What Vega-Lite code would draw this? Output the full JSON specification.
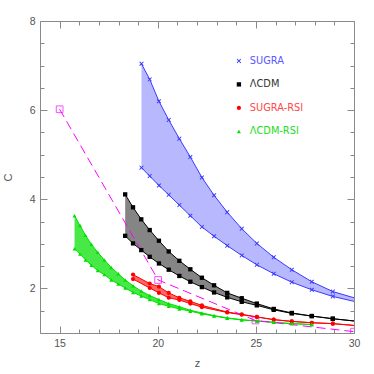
{
  "$schema": "https://vega.github.io/schema/vega-lite/v6.json",
  "width": 314,
  "height": 312,
  "autosize": {"type": "none"},
  "padding": {"left": 40, "top": 21, "right": 20, "bottom": 41},
  "background": "white",
  "config": {
    "view": {"stroke": "#8a8a8a", "strokeWidth": 1},
    "font": "Liberation Sans",
    "axis": {
      "domain": false,
      "grid": false,
      "tickColor": "#8a8a8a",
      "labelColor": "#555555",
      "titleColor": "#555555",
      "labelFontSize": 10.5,
      "titleFontSize": 11,
      "titleFontWeight": "normal",
      "labelFlush": false,
      "labelOverlap": false
    }
  },
  "datasets": {
    "curves": [
      {"series": "SUGRA", "z": 19.17, "hi": 7.04, "lo": 4.71},
      {"series": "SUGRA", "z": 19.59, "hi": 6.69, "lo": 4.52},
      {"series": "SUGRA", "z": 20.06, "hi": 6.20, "lo": 4.31},
      {"series": "SUGRA", "z": 20.56, "hi": 5.78, "lo": 4.10},
      {"series": "SUGRA", "z": 21.10, "hi": 5.36, "lo": 3.87},
      {"series": "SUGRA", "z": 21.66, "hi": 4.95, "lo": 3.63},
      {"series": "SUGRA", "z": 22.25, "hi": 4.49, "lo": 3.38},
      {"series": "SUGRA", "z": 22.87, "hi": 4.09, "lo": 3.17},
      {"series": "SUGRA", "z": 23.54, "hi": 3.71, "lo": 2.96},
      {"series": "SUGRA", "z": 24.28, "hi": 3.34, "lo": 2.74},
      {"series": "SUGRA", "z": 25.05, "hi": 3.01, "lo": 2.53},
      {"series": "SUGRA", "z": 25.91, "hi": 2.70, "lo": 2.33},
      {"series": "SUGRA", "z": 26.83, "hi": 2.42, "lo": 2.14},
      {"series": "SUGRA", "z": 27.85, "hi": 2.15, "lo": 1.97},
      {"series": "SUGRA", "z": 28.92, "hi": 1.93, "lo": 1.82},
      {"series": "SUGRA", "z": 30.0, "hi": 1.79, "lo": 1.71},
      {"series": "ΛCDM", "z": 18.34, "hi": 4.11, "lo": 3.18},
      {"series": "ΛCDM", "z": 18.74, "hi": 3.82, "lo": 3.01},
      {"series": "ΛCDM", "z": 19.16, "hi": 3.55, "lo": 2.86},
      {"series": "ΛCDM", "z": 19.59, "hi": 3.31, "lo": 2.71},
      {"series": "ΛCDM", "z": 20.06, "hi": 3.07, "lo": 2.56},
      {"series": "ΛCDM", "z": 20.56, "hi": 2.83, "lo": 2.42},
      {"series": "ΛCDM", "z": 21.10, "hi": 2.62, "lo": 2.28},
      {"series": "ΛCDM", "z": 21.66, "hi": 2.43, "lo": 2.15},
      {"series": "ΛCDM", "z": 22.25, "hi": 2.24, "lo": 2.03},
      {"series": "ΛCDM", "z": 22.87, "hi": 2.07, "lo": 1.91},
      {"series": "ΛCDM", "z": 23.54, "hi": 1.90, "lo": 1.80},
      {"series": "ΛCDM", "z": 24.28, "hi": 1.78, "lo": 1.70},
      {"series": "ΛCDM", "z": 25.05, "hi": 1.66, "lo": 1.62},
      {"series": "ΛCDM", "z": 25.91, "hi": 1.54, "lo": 1.52},
      {"series": "ΛCDM", "z": 26.83, "hi": 1.45, "lo": 1.44},
      {"series": "ΛCDM", "z": 27.85, "hi": 1.38, "lo": 1.38},
      {"series": "ΛCDM", "z": 28.92, "hi": 1.32, "lo": 1.32},
      {"series": "ΛCDM", "z": 30.0, "hi": 1.27, "lo": 1.27},
      {"series": "SUGRA-RSI", "z": 18.74, "hi": 2.31, "lo": 2.21},
      {"series": "SUGRA-RSI", "z": 19.59, "hi": 2.11, "lo": 2.01},
      {"series": "SUGRA-RSI", "z": 20.06, "hi": 2.04, "lo": 1.90},
      {"series": "SUGRA-RSI", "z": 20.56, "hi": 1.90, "lo": 1.79},
      {"series": "SUGRA-RSI", "z": 21.10, "hi": 1.79, "lo": 1.74},
      {"series": "SUGRA-RSI", "z": 21.66, "hi": 1.71, "lo": 1.66},
      {"series": "SUGRA-RSI", "z": 22.25, "hi": 1.62, "lo": 1.58},
      {"series": "SUGRA-RSI", "z": 23.54, "hi": 1.47, "lo": 1.46},
      {"series": "SUGRA-RSI", "z": 24.28, "hi": 1.42, "lo": 1.41},
      {"series": "SUGRA-RSI", "z": 25.05, "hi": 1.36, "lo": 1.36},
      {"series": "SUGRA-RSI", "z": 25.91, "hi": 1.30, "lo": 1.30},
      {"series": "SUGRA-RSI", "z": 26.83, "hi": 1.26, "lo": 1.26},
      {"series": "SUGRA-RSI", "z": 27.85, "hi": 1.23, "lo": 1.23},
      {"series": "SUGRA-RSI", "z": 28.92, "hi": 1.21, "lo": 1.21},
      {"series": "SUGRA-RSI", "z": 30.0, "hi": 1.17, "lo": 1.17},
      {"series": "ΛCDM-RSI", "z": 15.76, "hi": 3.63, "lo": 2.89},
      {"series": "ΛCDM-RSI", "z": 16.04, "hi": 3.41, "lo": 2.77},
      {"series": "ΛCDM-RSI", "z": 16.32, "hi": 3.19, "lo": 2.64},
      {"series": "ΛCDM-RSI", "z": 16.62, "hi": 2.99, "lo": 2.52},
      {"series": "ΛCDM-RSI", "z": 16.94, "hi": 2.81, "lo": 2.40},
      {"series": "ΛCDM-RSI", "z": 17.28, "hi": 2.64, "lo": 2.31},
      {"series": "ΛCDM-RSI", "z": 17.63, "hi": 2.47, "lo": 2.19},
      {"series": "ΛCDM-RSI", "z": 17.99, "hi": 2.33, "lo": 2.10},
      {"series": "ΛCDM-RSI", "z": 18.34, "hi": 2.19, "lo": 2.01},
      {"series": "ΛCDM-RSI", "z": 18.74, "hi": 2.06, "lo": 1.91},
      {"series": "ΛCDM-RSI", "z": 19.16, "hi": 1.94, "lo": 1.83},
      {"series": "ΛCDM-RSI", "z": 19.59, "hi": 1.84, "lo": 1.75},
      {"series": "ΛCDM-RSI", "z": 20.06, "hi": 1.75, "lo": 1.66},
      {"series": "ΛCDM-RSI", "z": 20.56, "hi": 1.66, "lo": 1.60},
      {"series": "ΛCDM-RSI", "z": 21.10, "hi": 1.59, "lo": 1.54},
      {"series": "ΛCDM-RSI", "z": 21.66, "hi": 1.51, "lo": 1.49},
      {"series": "ΛCDM-RSI", "z": 22.25, "hi": 1.45, "lo": 1.43},
      {"series": "ΛCDM-RSI", "z": 22.87, "hi": 1.39, "lo": 1.38},
      {"series": "ΛCDM-RSI", "z": 23.54, "hi": 1.34, "lo": 1.33},
      {"series": "ΛCDM-RSI", "z": 24.28, "hi": 1.30, "lo": 1.29},
      {"series": "ΛCDM-RSI", "z": 25.05, "hi": 1.27, "lo": 1.27},
      {"series": "ΛCDM-RSI", "z": 25.91, "hi": 1.24, "lo": 1.24},
      {"series": "ΛCDM-RSI", "z": 26.83, "hi": 1.21, "lo": 1.21},
      {"series": "ΛCDM-RSI", "z": 27.85, "hi": 1.19, "lo": 1.19}
    ],
    "ref": [
      {"z": 15.0, "C": 6.02},
      {"z": 20.02, "C": 2.19},
      {"z": 24.98, "C": 1.28},
      {"z": 30.0, "C": 1.03}
    ]
  },
  "layer": [
    {
      "data": {"name": "curves"},
      "mark": {"type": "area", "strokeWidth": 0},
      "encoding": {
        "x": {"field": "z", "type": "quantitative", "scale": {"domain": [15, 30]},
          "axis": {"orient": "bottom", "title": "z", "titlePadding": 6,
            "values": [15,16,17,18,19,20,21,22,23,24,25,26,27,28,29,30],
            "tickSize": {"condition": {"test": "datum.value % 5 === 0", "value": -7}, "value": -4},
            "labelPadding": 12,
            "labelExpr": "datum.value % 5 === 0 ? datum.label : ''"}},
        "y": {"field": "hi", "type": "quantitative", "stack": null, "scale": {"domain": [1, 8]},
          "axis": {"orient": "left", "title": "C", "titlePadding": 16,
            "values": [1,1.5,2,2.5,3,3.5,4,4.5,5,5.5,6,6.5,7,7.5,8],
            "tickSize": {"condition": {"test": "datum.value % 2 === 0", "value": -7}, "value": -4},
            "labelPadding": 12,
            "labelExpr": "datum.value % 2 === 0 ? format(datum.value, 'd') : ''"}},
        "y2": {"field": "lo"},
        "detail": {"field": "series"},
        "color": {"field": "series", "type": "nominal", "legend": null,
          "scale": {"domain": ["SUGRA", "ΛCDM", "SUGRA-RSI", "ΛCDM-RSI"], "range": ["#3a3aff", "#000000", "#ff0000", "#00e000"]}},
        "fillOpacity": {"field": "series", "type": "nominal", "legend": null,
          "scale": {"domain": ["SUGRA", "ΛCDM", "SUGRA-RSI", "ΛCDM-RSI"], "range": [0.36, 0.72, 0.3, 0.28]}}
      }
    },
    {
      "data": {"name": "curves"},
      "mark": {"type": "line", "strokeWidth": 1},
      "encoding": {
        "x": {"field": "z", "type": "quantitative", "scale": {"domain": [15, 30]},
          "axis": {"orient": "top", "title": null, "labels": false,
            "values": [15,16,17,18,19,20,21,22,23,24,25,26,27,28,29,30],
            "tickSize": {"condition": {"test": "datum.value % 5 === 0", "value": -7}, "value": -4}}},
        "y": {"field": "hi", "type": "quantitative", "scale": {"domain": [1, 8]},
          "axis": {"orient": "right", "title": null, "labels": false,
            "values": [1,1.5,2,2.5,3,3.5,4,4.5,5,5.5,6,6.5,7,7.5,8],
            "tickSize": {"condition": {"test": "datum.value % 2 === 0", "value": -7}, "value": -4}}},
        "color": {"field": "series", "type": "nominal", "legend": null,
          "scale": {"domain": ["SUGRA", "ΛCDM", "SUGRA-RSI", "ΛCDM-RSI"], "range": ["#3a3aff", "#000000", "#ff0000", "#00e000"]}}
      }
    },
    {
      "data": {"name": "curves"},
      "mark": {"type": "line", "strokeWidth": 1},
      "encoding": {
        "x": {"field": "z", "type": "quantitative", "axis": null},
        "y": {"field": "lo", "type": "quantitative", "axis": null},
        "color": {"field": "series", "type": "nominal", "legend": null,
          "scale": {"domain": ["SUGRA", "ΛCDM", "SUGRA-RSI", "ΛCDM-RSI"], "range": ["#3a3aff", "#000000", "#ff0000", "#00e000"]}}
      }
    },
    {
      "data": {"name": "ref"},
      "mark": {"type": "line", "color": "#ff00ff", "strokeWidth": 1, "strokeDash": [9, 5]},
      "encoding": {
        "x": {"field": "z", "type": "quantitative", "axis": null},
        "y": {"field": "C", "type": "quantitative", "axis": null}
      }
    },
    {
      "data": {"name": "ref"},
      "mark": {"type": "point", "shape": "square", "filled": false, "color": "#ff00ff", "size": 45, "strokeWidth": 1, "clip": true},
      "encoding": {
        "x": {"field": "z", "type": "quantitative", "axis": null},
        "y": {"field": "C", "type": "quantitative", "axis": null}
      }
    },
    {
      "data": {"name": "curves"},
      "transform": [
        {"filter": "datum.z < 30"},
        {"fold": ["hi", "lo"], "as": ["bound", "C"]}
      ],
      "mark": {"type": "point", "filled": true, "opacity": 1},
      "encoding": {
        "x": {"field": "z", "type": "quantitative", "axis": null},
        "y": {"field": "C", "type": "quantitative", "axis": null},
        "size": {"field": "series", "type": "nominal", "legend": null,
          "scale": {"domain": ["SUGRA", "ΛCDM", "SUGRA-RSI", "ΛCDM-RSI"], "range": [20, 16, 30, 18]}},
        "color": {"field": "series", "type": "nominal",
          "scale": {"domain": ["SUGRA", "ΛCDM", "SUGRA-RSI", "ΛCDM-RSI"], "range": ["#3a3aff", "#000000", "#ff0000", "#00e000"]},
          "legend": {"orient": "none", "legendX": 194, "legendY": 35, "title": null, "padding": 0,
            "labelFontSize": 9.8, "labelOffset": 6, "rowPadding": 12.5, "symbolSize": 18,
            "labelFont": "DejaVu Sans",
            "labelColor": {"expr": "datum.value === 'SUGRA' ? '#5a5aff' : datum.value === 'ΛCDM' ? '#333333' : datum.value === 'SUGRA-RSI' ? '#ff4a4a' : '#22dd22'"}}},
        "shape": {"field": "series", "type": "nominal",
          "scale": {"domain": ["SUGRA", "ΛCDM", "SUGRA-RSI", "ΛCDM-RSI"],
            "range": ["M-1,-0.7L-0.7,-1L0,-0.3L0.7,-1L1,-0.7L0.3,0L1,0.7L0.7,1L0,0.3L-0.7,1L-1,0.7L-0.3,0Z", "square", "circle", "triangle-up"]},
          "legend": {"orient": "none", "legendX": 194, "legendY": 35, "title": null, "padding": 0,
            "labelFontSize": 9.8, "labelOffset": 6, "rowPadding": 12.5, "symbolSize": 18,
            "labelFont": "DejaVu Sans",
            "labelColor": {"expr": "datum.value === 'SUGRA' ? '#5a5aff' : datum.value === 'ΛCDM' ? '#333333' : datum.value === 'SUGRA-RSI' ? '#ff4a4a' : '#22dd22'"}}}
      }
    }
  ],
  "resolve": {
    "axis": {"x": "independent", "y": "independent"},
    "scale": {"color": "independent", "size": "independent", "fillOpacity": "independent", "shape": "independent"},
    "legend": {"color": "independent", "shape": "independent"}
  }
}
